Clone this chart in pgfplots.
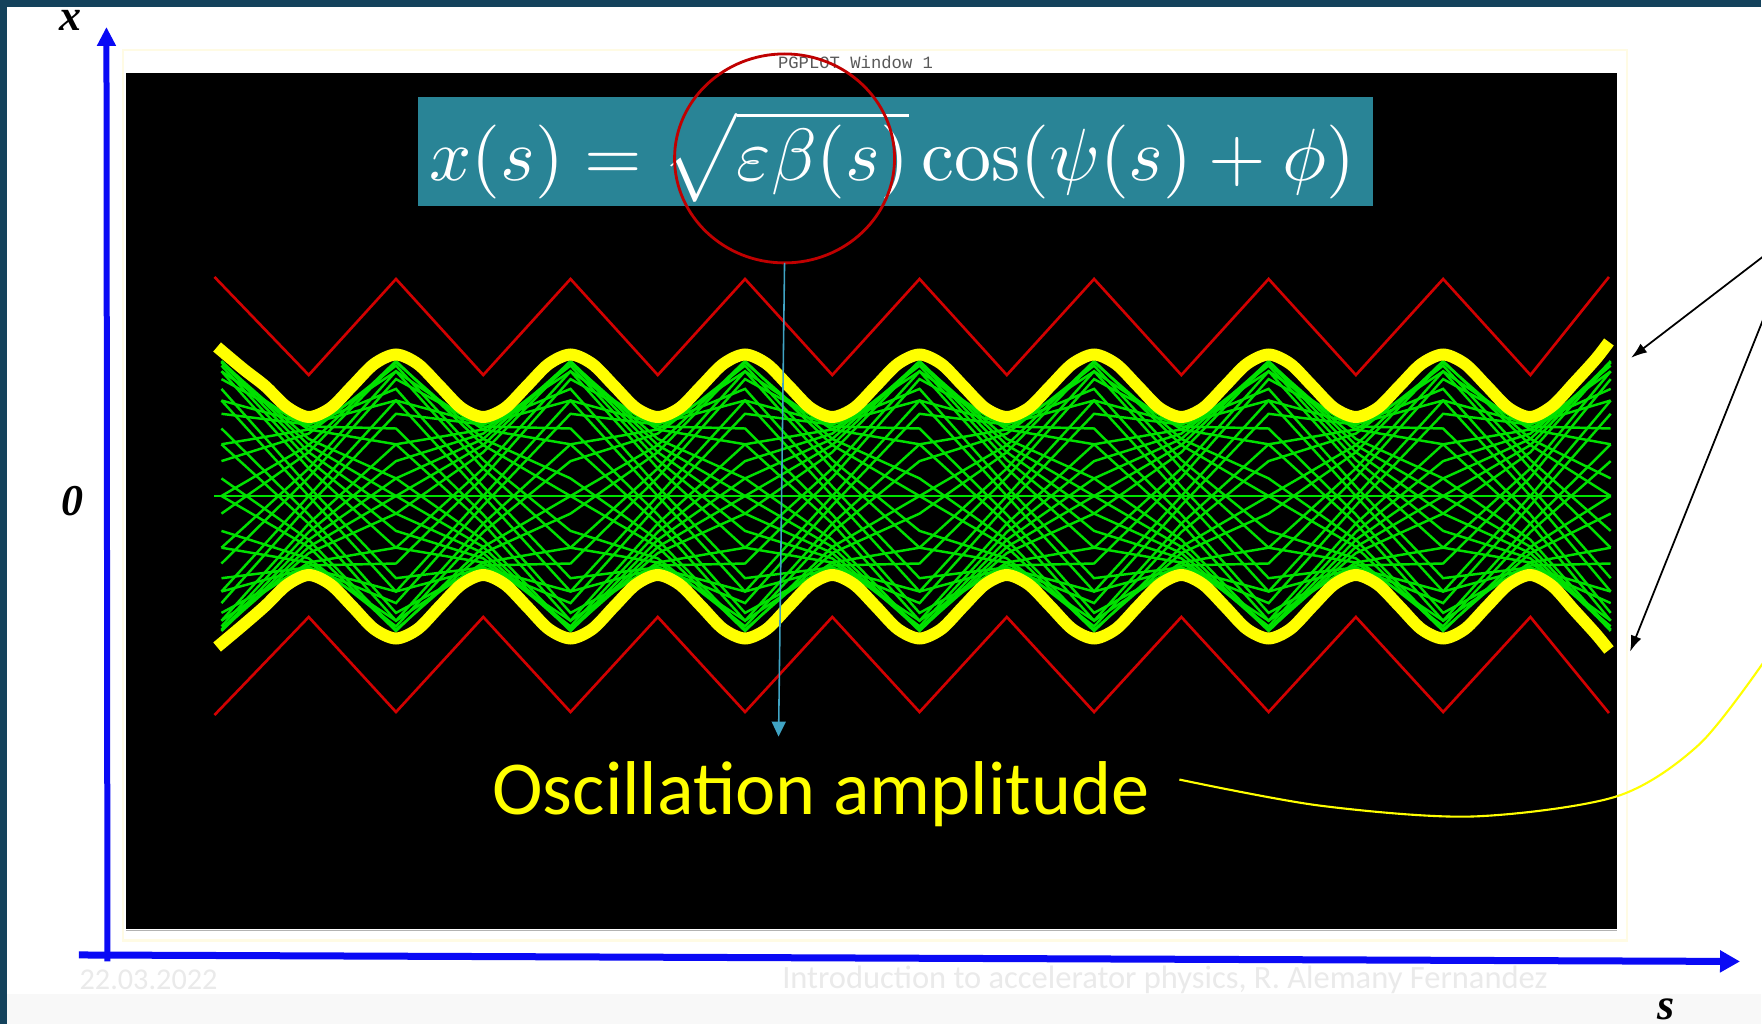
\documentclass[border=0pt]{standalone}
\usepackage{graphicx}
\usepackage{pgfplots}
\pgfplotsset{compat=1.18}
\usepackage{pgfplotstable}
\usepackage[no-math]{fontspec}
\usetikzlibrary{arrows.meta}
\setmainfont{Carlito}
\newfontfamily\lserif{Liberation Serif}
\newfontfamily\lmono{Liberation Mono}
\definecolor{slidedark}{RGB}{20,66,92}
\definecolor{eqteal}{RGB}{41,132,150}
\definecolor{trkgreen}{RGB}{0,225,0}
\definecolor{betared}{RGB}{210,0,0}
\definecolor{ellred}{RGB}{192,0,0}
\definecolor{envyellow}{RGB}{255,255,0}
\definecolor{axblue}{RGB}{10,10,245}
\definecolor{cyanline}{RGB}{64,164,196}
\definecolor{cream}{RGB}{255,251,228}
\definecolor{footgrey}{RGB}{234,234,234}
\definecolor{bandgrey}{RGB}{248,248,248}

% betatron trajectories (thin-lens FODO, kinks at the quadrupoles)
\pgfplotstableread{
s t0 t1 t2 t3 t4 t5 t6 t7 t8 t9 t10 t11 t12 t13 t14 t15 t16 t17 t18 t19 t20 t21 t22 t23 t24 t25 t26 t27 t28 t29 t30 t31 t32 t33 t34 t35 t36 t37 t38 t39 t40 t41 t42 t43 t44 t45 t46 t47
0 1.35 1.338 1.304 1.247 1.169 1.071 0.955 0.822 0.675 0.517 0.349 0.176 0 -0.176 -0.349 -0.517 -0.675 -0.822 -0.955 -1.071 -1.169 -1.247 -1.304 -1.338 -1.35 -1.338 -1.304 -1.247 -1.169 -1.071 -0.955 -0.822 -0.675 -0.517 -0.349 -0.176 0 0.176 0.349 0.517 0.675 0.822 0.955 1.071 1.169 1.247 1.304 1.338
0.5 0.509 0.438 0.36 0.276 0.186 0.094 0 -0.094 -0.186 -0.276 -0.36 -0.438 -0.509 -0.571 -0.624 -0.665 -0.695 -0.714 -0.72 -0.714 -0.695 -0.665 -0.624 -0.571 -0.509 -0.438 -0.36 -0.276 -0.186 -0.094 0 0.094 0.186 0.276 0.36 0.438 0.509 0.571 0.624 0.665 0.695 0.714 0.72 0.714 0.695 0.665 0.624 0.571
1 0 -0.176 -0.349 -0.517 -0.675 -0.822 -0.955 -1.071 -1.169 -1.247 -1.304 -1.338 -1.35 -1.338 -1.304 -1.247 -1.169 -1.071 -0.955 -0.822 -0.675 -0.517 -0.349 -0.176 0 0.176 0.349 0.517 0.675 0.822 0.955 1.071 1.169 1.247 1.304 1.338 1.35 1.338 1.304 1.247 1.169 1.071 0.955 0.822 0.675 0.517 0.349 0.176
1.5 -0.509 -0.571 -0.624 -0.665 -0.695 -0.714 -0.72 -0.714 -0.695 -0.665 -0.624 -0.571 -0.509 -0.438 -0.36 -0.276 -0.186 -0.094 0 0.094 0.186 0.276 0.36 0.438 0.509 0.571 0.624 0.665 0.695 0.714 0.72 0.714 0.695 0.665 0.624 0.571 0.509 0.438 0.36 0.276 0.186 0.094 0 -0.094 -0.186 -0.276 -0.36 -0.438
2 -1.35 -1.338 -1.304 -1.247 -1.169 -1.071 -0.955 -0.822 -0.675 -0.517 -0.349 -0.176 0 0.176 0.349 0.517 0.675 0.822 0.955 1.071 1.169 1.247 1.304 1.338 1.35 1.338 1.304 1.247 1.169 1.071 0.955 0.822 0.675 0.517 0.349 0.176 0 -0.176 -0.349 -0.517 -0.675 -0.822 -0.955 -1.071 -1.169 -1.247 -1.304 -1.338
2.5 -0.509 -0.438 -0.36 -0.276 -0.186 -0.094 0 0.094 0.186 0.276 0.36 0.438 0.509 0.571 0.624 0.665 0.695 0.714 0.72 0.714 0.695 0.665 0.624 0.571 0.509 0.438 0.36 0.276 0.186 0.094 0 -0.094 -0.186 -0.276 -0.36 -0.438 -0.509 -0.571 -0.624 -0.665 -0.695 -0.714 -0.72 -0.714 -0.695 -0.665 -0.624 -0.571
3 0 0.176 0.349 0.517 0.675 0.822 0.955 1.071 1.169 1.247 1.304 1.338 1.35 1.338 1.304 1.247 1.169 1.071 0.955 0.822 0.675 0.517 0.349 0.176 0 -0.176 -0.349 -0.517 -0.675 -0.822 -0.955 -1.071 -1.169 -1.247 -1.304 -1.338 -1.35 -1.338 -1.304 -1.247 -1.169 -1.071 -0.955 -0.822 -0.675 -0.517 -0.349 -0.176
3.5 0.509 0.571 0.624 0.665 0.695 0.714 0.72 0.714 0.695 0.665 0.624 0.571 0.509 0.438 0.36 0.276 0.186 0.094 0 -0.094 -0.186 -0.276 -0.36 -0.438 -0.509 -0.571 -0.624 -0.665 -0.695 -0.714 -0.72 -0.714 -0.695 -0.665 -0.624 -0.571 -0.509 -0.438 -0.36 -0.276 -0.186 -0.094 0 0.094 0.186 0.276 0.36 0.438
4 1.35 1.338 1.304 1.247 1.169 1.071 0.955 0.822 0.675 0.517 0.349 0.176 0 -0.176 -0.349 -0.517 -0.675 -0.822 -0.955 -1.071 -1.169 -1.247 -1.304 -1.338 -1.35 -1.338 -1.304 -1.247 -1.169 -1.071 -0.955 -0.822 -0.675 -0.517 -0.349 -0.176 0 0.176 0.349 0.517 0.675 0.822 0.955 1.071 1.169 1.247 1.304 1.338
4.5 0.509 0.438 0.36 0.276 0.186 0.094 0 -0.094 -0.186 -0.276 -0.36 -0.438 -0.509 -0.571 -0.624 -0.665 -0.695 -0.714 -0.72 -0.714 -0.695 -0.665 -0.624 -0.571 -0.509 -0.438 -0.36 -0.276 -0.186 -0.094 0 0.094 0.186 0.276 0.36 0.438 0.509 0.571 0.624 0.665 0.695 0.714 0.72 0.714 0.695 0.665 0.624 0.571
5 0 -0.176 -0.349 -0.517 -0.675 -0.822 -0.955 -1.071 -1.169 -1.247 -1.304 -1.338 -1.35 -1.338 -1.304 -1.247 -1.169 -1.071 -0.955 -0.822 -0.675 -0.517 -0.349 -0.176 0 0.176 0.349 0.517 0.675 0.822 0.955 1.071 1.169 1.247 1.304 1.338 1.35 1.338 1.304 1.247 1.169 1.071 0.955 0.822 0.675 0.517 0.349 0.176
5.5 -0.509 -0.571 -0.624 -0.665 -0.695 -0.714 -0.72 -0.714 -0.695 -0.665 -0.624 -0.571 -0.509 -0.438 -0.36 -0.276 -0.186 -0.094 0 0.094 0.186 0.276 0.36 0.438 0.509 0.571 0.624 0.665 0.695 0.714 0.72 0.714 0.695 0.665 0.624 0.571 0.509 0.438 0.36 0.276 0.186 0.094 0 -0.094 -0.186 -0.276 -0.36 -0.438
6 -1.35 -1.338 -1.304 -1.247 -1.169 -1.071 -0.955 -0.822 -0.675 -0.517 -0.349 -0.176 0 0.176 0.349 0.517 0.675 0.822 0.955 1.071 1.169 1.247 1.304 1.338 1.35 1.338 1.304 1.247 1.169 1.071 0.955 0.822 0.675 0.517 0.349 0.176 0 -0.176 -0.349 -0.517 -0.675 -0.822 -0.955 -1.071 -1.169 -1.247 -1.304 -1.338
6.5 -0.509 -0.438 -0.36 -0.276 -0.186 -0.094 0 0.094 0.186 0.276 0.36 0.438 0.509 0.571 0.624 0.665 0.695 0.714 0.72 0.714 0.695 0.665 0.624 0.571 0.509 0.438 0.36 0.276 0.186 0.094 0 -0.094 -0.186 -0.276 -0.36 -0.438 -0.509 -0.571 -0.624 -0.665 -0.695 -0.714 -0.72 -0.714 -0.695 -0.665 -0.624 -0.571
7 0 0.176 0.349 0.517 0.675 0.822 0.955 1.071 1.169 1.247 1.304 1.338 1.35 1.338 1.304 1.247 1.169 1.071 0.955 0.822 0.675 0.517 0.349 0.176 0 -0.176 -0.349 -0.517 -0.675 -0.822 -0.955 -1.071 -1.169 -1.247 -1.304 -1.338 -1.35 -1.338 -1.304 -1.247 -1.169 -1.071 -0.955 -0.822 -0.675 -0.517 -0.349 -0.176
7.5 0.509 0.571 0.624 0.665 0.695 0.714 0.72 0.714 0.695 0.665 0.624 0.571 0.509 0.438 0.36 0.276 0.186 0.094 0 -0.094 -0.186 -0.276 -0.36 -0.438 -0.509 -0.571 -0.624 -0.665 -0.695 -0.714 -0.72 -0.714 -0.695 -0.665 -0.624 -0.571 -0.509 -0.438 -0.36 -0.276 -0.186 -0.094 0 0.094 0.186 0.276 0.36 0.438
7.96 1.35 1.338 1.304 1.247 1.169 1.071 0.955 0.822 0.675 0.517 0.349 0.176 0 -0.176 -0.349 -0.517 -0.675 -0.822 -0.955 -1.071 -1.169 -1.247 -1.304 -1.338 -1.35 -1.338 -1.304 -1.247 -1.169 -1.071 -0.955 -0.822 -0.675 -0.517 -0.349 -0.176 0 0.176 0.349 0.517 0.675 0.822 0.955 1.071 1.169 1.247 1.304 1.338
}\trk

% beta-function-like red lines
\pgfplotstableread{
s up lo
-0.04 2.19 -2.19
0.5 1.21 -1.21
1 2.17 -2.16
1.5 1.21 -1.21
2 2.17 -2.16
2.5 1.21 -1.21
3 2.17 -2.16
3.5 1.21 -1.21
4 2.17 -2.16
4.5 1.21 -1.21
5 2.17 -2.16
5.5 1.21 -1.21
6 2.17 -2.16
6.5 1.21 -1.21
7 2.17 -2.16
7.5 1.21 -1.21
7.95 2.19 -2.17
}\redtab

% envelope (yellow)
\pgfplotstableread{
s up lo
-0.025 1.49 -1.51
0.125 1.27 -1.29
0.25 1.10 -1.10
0.375 0.89 -0.89
0.5 0.79 -0.79
0.625 0.88 -0.885
0.75 1.10 -1.105
0.875 1.32 -1.33
1 1.415 -1.425
1.125 1.32 -1.33
1.25 1.10 -1.105
1.375 0.88 -0.885
1.5 0.79 -0.79
1.625 0.88 -0.885
1.75 1.10 -1.105
1.875 1.32 -1.33
2 1.415 -1.425
2.125 1.32 -1.33
2.25 1.10 -1.105
2.375 0.88 -0.885
2.5 0.79 -0.79
2.625 0.88 -0.885
2.75 1.10 -1.105
2.875 1.32 -1.33
3 1.415 -1.425
3.125 1.32 -1.33
3.25 1.10 -1.105
3.375 0.88 -0.885
3.5 0.79 -0.79
3.625 0.88 -0.885
3.75 1.10 -1.105
3.875 1.32 -1.33
4 1.415 -1.425
4.125 1.32 -1.33
4.25 1.10 -1.105
4.375 0.88 -0.885
4.5 0.79 -0.79
4.625 0.88 -0.885
4.75 1.10 -1.105
4.875 1.32 -1.33
5 1.415 -1.425
5.125 1.32 -1.33
5.25 1.10 -1.105
5.375 0.88 -0.885
5.5 0.79 -0.79
5.625 0.88 -0.885
5.75 1.10 -1.105
5.875 1.32 -1.33
6 1.415 -1.425
6.125 1.32 -1.33
6.25 1.10 -1.105
6.375 0.88 -0.885
6.5 0.79 -0.79
6.625 0.88 -0.885
6.75 1.10 -1.105
6.875 1.32 -1.33
7 1.415 -1.425
7.125 1.32 -1.33
7.25 1.10 -1.105
7.375 0.88 -0.885
7.5 0.79 -0.79
7.625 0.90 -0.90
7.75 1.13 -1.14
7.875 1.37 -1.38
7.95 1.54 -1.54
}\yeltab

\begin{document}
\begin{tikzpicture}
\useasboundingbox (0,0) rectangle (17.62,-10.25);
\clip (0,0) rectangle (17.62,-10.25);
\begin{scope}[x=0.01cm,y=-0.01cm]
\fill[white] (0,0) rectangle (1762,1025);
\fill[bandgrey] (0,995) rectangle (1762,1025);
\fill[slidedark] (0,0) rectangle (1762,7);
\fill[slidedark] (0,0) rectangle (7,1025);
% PGPLOT window
\draw[cream, line width=0.6pt] (123,50) rectangle (1628,941);
\fill[black] (126,73) rectangle (1618,930);
\draw[gray!60, line width=0.5pt] (126,931) -- (1618,931);
\node[font=\lmono\fontsize{4.9}{5}\selectfont, text=black!65, inner sep=0] at (856,62.5) {PGPLOT Window 1};
\end{scope}

\begin{axis}[
  at={(1.26cm,-9.30cm)}, anchor=south west,
  scale only axis, width=14.92cm, height=8.57cm,
  xmin=-0.547, xmax=8.002, ymin=-4.34, ymax=4.23,
  hide axis, clip=true, no markers,
]
\pgfplotsinvokeforeach{0,1,2,3,5,6,8,9,11,12,14,15,17,18,20,21,23,24,25,26,27,29,30,32,33,35,36,38,39,41,42,44,45,47}{
  \addplot[trkgreen, line width=0.7pt, forget plot] table[x=s, y=t#1] {\trk};
}
\addplot[trkgreen, line width=0.5pt] coordinates {(-0.04,0) (7.96,0)};
\addplot[betared, line width=0.75pt] table[x=s, y=up] {\redtab};
\addplot[betared, line width=0.75pt] table[x=s, y=lo] {\redtab};
\addplot[envyellow, line width=3.4pt, smooth] table[x=s, y=up] {\yeltab};
\addplot[envyellow, line width=3.4pt, smooth] table[x=s, y=lo] {\yeltab};
\end{axis}

\begin{scope}[x=0.01cm,y=-0.01cm]
% equation box
\fill[eqteal] (418,97) rectangle (1374,206);
\node[text=white, inner sep=0] at (893,157)
  {\resizebox{9.26cm}{!}{$x(s)=\sqrt{\varepsilon\beta(s)}\cos(\psi(s)+\phi)$}};
\draw[ellred, line width=0.8pt] (785,158.5) ellipse [x radius=1.10cm, y radius=1.045cm];
\draw[cyanline, line width=0.45pt, -{Triangle[length=0.15cm,width=0.14cm]}] (785,263) -- (779,737);

% annotation
\node[anchor=base west, inner sep=0, text=envyellow, font=\fontsize{21.7}{25}\selectfont] at (492,815) {Oscillation amplitude};
\draw[envyellow, line width=0.6pt] plot[smooth] coordinates {(1180,780) (1320,806) (1472,817) (1617,797) (1700,745) (1765,662)};
\draw[black, line width=0.5pt, -{Latex[length=0.16cm,width=0.11cm]}] (1765,256) -- (1632,358);
\draw[black, line width=0.5pt, -{Latex[length=0.16cm,width=0.11cm]}] (1772,300) -- (1631,652);

% blue axes
\draw[axblue, line width=0.07cm, -{Triangle[length=0.2cm,width=0.21cm]}] (79,955.5) -- (1741,962);
\draw[axblue, line width=0.06cm, -{Triangle[length=0.19cm,width=0.18cm]}] (107.5,962) -- (106.5,27);
\node[font=\lserif\bfseries\itshape\fontsize{12.5}{14}\selectfont, inner sep=0] at (71,20) {x};
\node[font=\lserif\bfseries\itshape\fontsize{12.5}{14}\selectfont, inner sep=0] at (73,501) {0};
\node[font=\lserif\bfseries\itshape\fontsize{12.5}{14}\selectfont, inner sep=0] at (1667,1010) {s};

% footer
\node[anchor=west, inner sep=0, text=footgrey, font=\fontsize{8.6}{10}\selectfont] at (79,980) {22.03.2022};
\node[anchor=west, inner sep=0, text=footgrey, font=\fontsize{9.25}{11}\selectfont] at (782,980) {Introduction to accelerator physics, R. Alemany Fernandez};
\end{scope}
\end{tikzpicture}
\end{document}
